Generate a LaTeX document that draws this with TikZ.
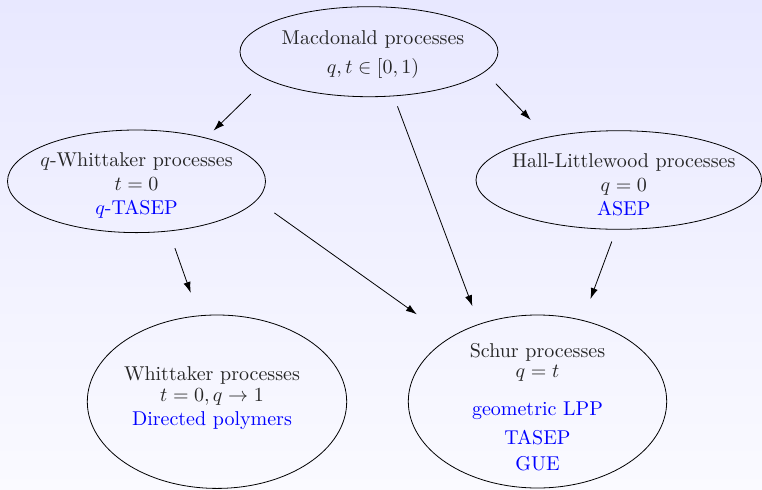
\documentclass[tikz,border=0pt]{standalone}
\usetikzlibrary{shapes.geometric, arrows.meta}
\begin{document}
\begin{tikzpicture}[x=1pt, y=1pt,
  proc/.style={ellipse, draw, inner sep=0pt},
  txt/.style={align=center, text=black!85},
  arr/.style={-{Latex[length=5.5pt, width=3.6pt]}, thin}]
  % Hintergrund mit Verlauf
  \shade[top color=blue!9, bottom color=blue!2] (0,0) rectangle (381,-244.5);
  \useasboundingbox (0,0) rectangle (381,-244.5);

  % Ellipsen fuer die Prozesse
  \node [proc, minimum width=129pt, minimum height=45pt] (mac) at (184.5,-25.85) {};
  \node [proc, minimum width=129pt, minimum height=51.3pt] (qwhit) at (68.25,-90.65) {};
  \node [proc, minimum width=142.8pt, minimum height=49.3pt] (hall) at (309.4,-90) {};
  \node [proc, minimum width=129.7pt, minimum height=86.7pt] (whit) at (108.5,-200.85) {};
  \node [proc, minimum width=129.2pt, minimum height=86.5pt] (schur) at (268.75,-200.75) {};

  % Texte in den Ellipsen
  \node [txt, xshift=2pt, yshift=-1.5pt] (mactxt) at (mac) {Macdonald processes\\[2.3pt] $q,t\in[0,1)$};
  \node [txt, yshift=-2.25pt] (qwhittxt) at (qwhit) {$q$-Whittaker processes\\ $t=0$\\ \textcolor{blue}{$q$-TASEP}};
  \node [txt, xshift=2.5pt, yshift=-2.5pt] (halltxt) at (hall) {Hall-Littlewood processes\\ $q=0$\\ \textcolor{blue}{ASEP}};
  \node [txt, xshift=-2.5pt, yshift=2pt] (whittxt) at (whit) {Whittaker processes\\[-1.5pt] $t=0,q\to1$\\ \textcolor{blue}{Directed polymers}};
  \node [txt, yshift=-3pt] (schurtxt) at (schur) {Schur processes\\[-2.3pt] $q=t$\\[7.2pt] \textcolor{blue}{geometric LPP}\\[2.5pt] \textcolor{blue}{TASEP}\\[1pt] \textcolor{blue}{GUE}};

  % Pfeile
  \draw[arr, shorten <=10.75pt, shorten >=5.1pt] (mac.195.3) -- (qwhit.32.85);
  \draw[arr, shorten <=8.07pt, shorten >=11.8pt] (mac.350.7) -- (hall.149.5);
  \draw[arr, shorten <=5.4pt, shorten >=9.45pt] (mac.299) -- (schur.127.2);
  \draw[arr, shorten <=10.8pt, shorten >=20.1pt] (qwhit.351.7) -- (schur.144.8);
  \draw[arr, shorten <=8.9pt, shorten >=11.95pt] (qwhit.303.4) -- (whit.102.2);
  \draw[arr, shorten <=6.3pt, shorten >=11.2pt] (hall.267.8) -- (schur.61.83);
\end{tikzpicture}
\end{document}
